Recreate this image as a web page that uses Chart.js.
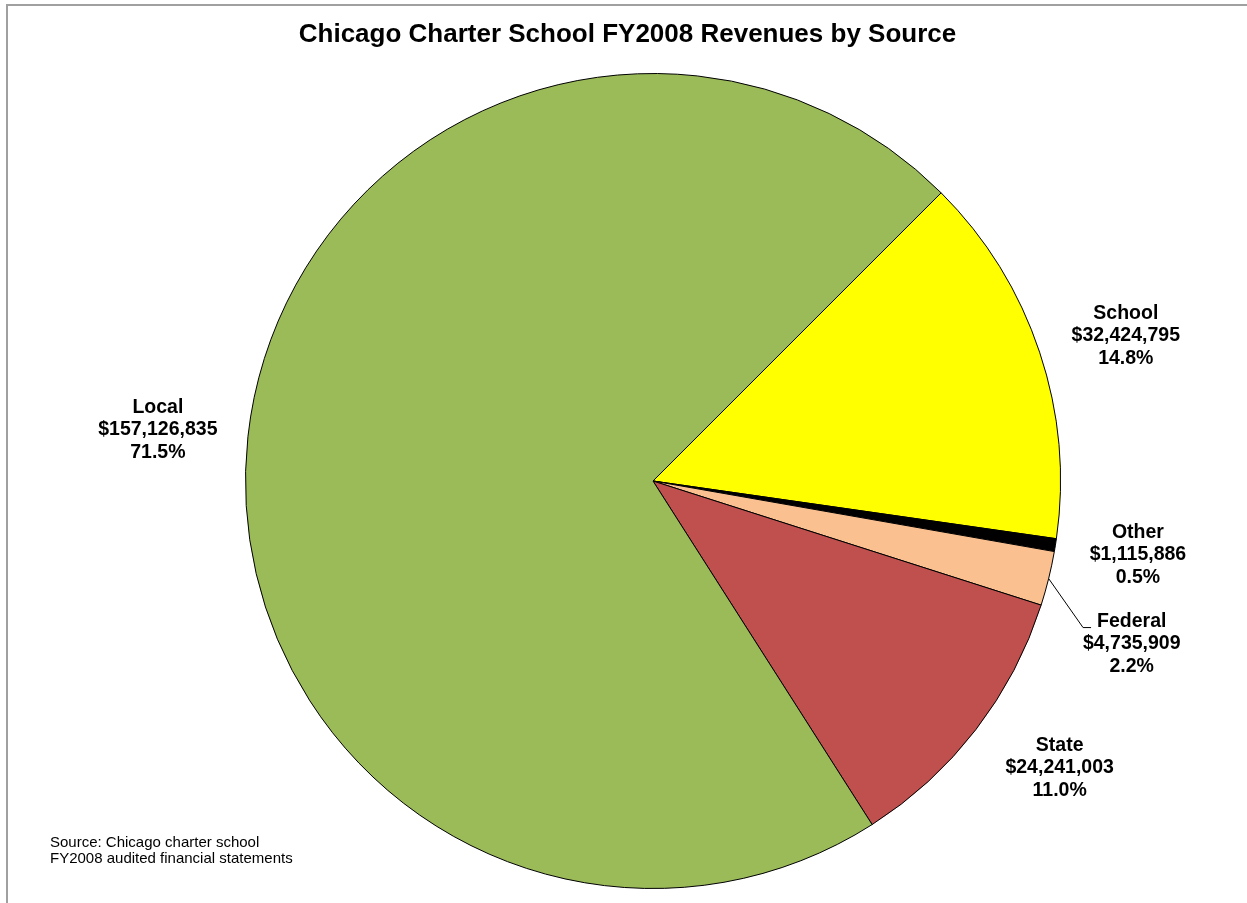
<!DOCTYPE html>
<html>
<head>
<meta charset="utf-8">
<title>Chicago Charter School FY2008 Revenues by Source</title>
<script src="https://cdn.jsdelivr.net/npm/chart.js@4/dist/chart.umd.min.js"></script>
<style>
  html, body { margin: 0; padding: 0; background: #fff; }
  #wrap { position: relative; width: 1247px; height: 903px; }
  #frame { position: absolute; left: 6px; top: 4px; right: -4px; bottom: -4px;
           border-top: 2px solid #a0a0a0; border-left: 2px solid #a0a0a0; pointer-events: none; }
  canvas { position: absolute; left: 0; top: 0; }
</style>
</head>
<body>
<div id="wrap">
  <canvas id="pie" width="1247" height="903"></canvas>
  <div id="frame"></div>
</div>
<script>
// data, clockwise from the upper right
const categories = ["School", "Other", "Federal", "State", "Local"];
const revenues = [32424795, 1115886, 4735909, 24241003, 157126835];
const sliceColors = ["#FFFF00", "#000000", "#FAC090", "#C0504D", "#9BBB59"];
const chartTitle = "Chicago Charter School FY2008 Revenues by Source";
const sourceNote = ["Source: Chicago charter school", "FY2008 audited financial statements"];

const FONT = "Arial, 'Liberation Sans', Helvetica, sans-serif";
const total = revenues.reduce((a, b) => a + b, 0);

// small hand tweaks so labels land where Excel put them; Federal gets a leader line
const labelNudge = {
  Local: [-5, 2.5],
  School: [5, 10.5],
  Other: [-2, -4],
  Federal: [0, 45],
  State: [16, -14]
};

const labelsPlugin = {
  id: "sliceLabels",
  afterDatasetsDraw(chart) {
    const ctx = chart.ctx;
    const meta = chart.getDatasetMeta(0);
    ctx.save();
    ctx.fillStyle = "#000";

    // title, centred on the whole frame rather than the pie
    ctx.font = "bold 26px " + FONT;
    ctx.textAlign = "center";
    ctx.textBaseline = "middle";
    ctx.fillText(chartTitle, 627.5, 35);

    ctx.font = "bold 19.5px " + FONT;
    const lh = 22.5;

    meta.data.forEach((arc, i) => {
      const p = arc.getProps(["x", "y", "startAngle", "endAngle", "outerRadius"], true);
      const mid = (p.startAngle + p.endAngle) / 2;
      const dist = p.outerRadius * 1.21;
      const name = categories[i];
      const nd = labelNudge[name] || [0, 0];
      const cx = p.x + Math.cos(mid) * dist + nd[0];
      const cy = p.y + Math.sin(mid) * dist + nd[1];
      const lines = [
        name,
        "$" + revenues[i].toLocaleString("en-US"),
        (revenues[i] / total * 100).toFixed(1) + "%"
      ];
      lines.forEach((t, k) => ctx.fillText(t, cx, cy + (k - 1) * lh));

      if (name === "Federal") {
        const left = cx - ctx.measureText(name).width / 2;
        const ly = cy - lh + 6;
        ctx.beginPath();
        ctx.strokeStyle = "#000";
        ctx.lineWidth = 1;
        ctx.moveTo(p.x + Math.cos(mid) * p.outerRadius, p.y + Math.sin(mid) * p.outerRadius);
        ctx.lineTo(left - 14, ly);
        ctx.lineTo(left - 6, ly);
        ctx.stroke();
      }
    });

    // source note, lower left
    ctx.font = "15px " + FONT;
    ctx.textAlign = "left";
    ctx.textBaseline = "alphabetic";
    sourceNote.forEach((t, k) => ctx.fillText(t, 50, 847 + k * 16));
    ctx.restore();
  }
};

new Chart(document.getElementById("pie"), {
  type: "pie",
  data: {
    labels: categories,
    datasets: [{
      data: revenues,
      backgroundColor: sliceColors,
      borderColor: "#000",
      borderWidth: 1
    }]
  },
  options: {
    responsive: false,
    animation: false,
    rotation: 45,
    layout: { padding: { left: 59, right: 0, top: 73, bottom: 14 } },
    plugins: {
      legend: { display: false },
      tooltip: { enabled: false },
      title: { display: false }
    }
  },
  plugins: [labelsPlugin]
});
</script>
</body>
</html>
